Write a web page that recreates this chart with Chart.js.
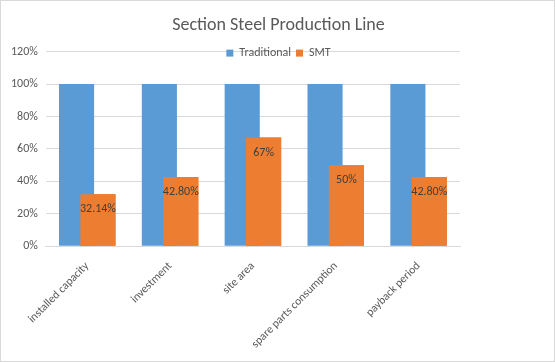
<!DOCTYPE html>
<html>
<head>
<meta charset="utf-8">
<script src="https://cdn.jsdelivr.net/npm/chart.js@4"></script>
<style>
    html, body { margin: 0; padding: 0; background: #fff; }
    #wrap { width: 553px; height: 360px; border: 1px solid #d9d9d9; }
</style>
</head>
<body>
<div id="wrap"><canvas id="steelChart" width="553" height="360"></canvas></div>
<script>
const categories = ['installed capacity', 'investment', 'site area', 'spare parts consumption', 'payback period'];
const traditional = [1, 1, 1, 1, 1];
const smt = [0.3214, 0.428, 0.67, 0.5, 0.428];
const smtLabels = ['32.14%', '42.80%', '67%', '50%', '42.80%'];

const textColor = '#595959';
const font = 'Calibri, Carlito, "Liberation Sans", Arial, sans-serif';

// legend sits on the top gridline like in Excel, so move it down after layout
const legendOnGrid = {
    id: 'legendOnGrid',
    afterLayout(chart) {
        const lg = chart.legend;
        const h = lg.bottom - lg.top;
        lg.top = chart.chartArea.top - h / 2 + 4;
        lg.bottom = lg.top + h;
    }
};

// SMT bars sit in front of the blue ones, then get their value labels
const smtOnTop = {
    id: 'smtOnTop',
    afterDatasetsDraw(chart) {
        const meta = chart.getDatasetMeta(1);
        const ctx = chart.ctx;
        ctx.save();
        meta.controller.draw();
        ctx.fillStyle = '#404040';
        ctx.font = '12px ' + font;
        ctx.textAlign = 'center';
        ctx.textBaseline = 'middle';
        meta.data.forEach((bar, i) => {
            ctx.fillText(smtLabels[i], bar.x, bar.y + 15);
        });
        ctx.restore();
    }
};

new Chart(document.getElementById('steelChart'), {
    type: 'bar',
    data: {
        labels: categories,
        datasets: [{
            label: 'Traditional',
            data: traditional,
            backgroundColor: '#5b9bd5',
            categoryPercentage: 0.517,
            barPercentage: 1.64
        }, {
            label: 'SMT',
            data: smt,
            backgroundColor: '#ed7d31',
            categoryPercentage: 0.517,
            barPercentage: 1.64
        }]
    },
    options: {
        responsive: false,
        animation: false,
        layout: { padding: { top: 0, right: 0, bottom: 5, left: 2 } },
        plugins: {
            title: {
                display: true,
                text: 'Section Steel Production Line',
                color: textColor,
                font: { family: font, size: 18, weight: 'normal' },
                padding: { top: 14, bottom: -12 }
            },
            legend: {
                position: 'top',
                align: 'center',
                labels: {
                    color: textColor,
                    font: { family: font, size: 12 },
                    boxWidth: 7,
                    boxHeight: 7,
                    padding: 5
                }
            },
            tooltip: { enabled: false }
        },
        scales: {
            x: {
                grid: { display: false },
                border: { color: '#d9d9d9' },
                ticks: {
                    color: textColor,
                    font: { family: font, size: 11.5 },
                    padding: 5,
                    maxRotation: 45,
                    minRotation: 45
                }
            },
            y: {
                min: 0,
                max: 1.2,
                grid: { color: '#d9d9d9', drawTicks: false },
                border: { display: false },
                ticks: {
                    stepSize: 0.2,
                    color: textColor,
                    padding: 8,
                    font: { family: font, size: 12 },
                    callback: v => Math.round(v * 100) + '%'
                }
            },
            // empty right-hand axis keeps the blank strip Excel leaves on the right
            yRight: {
                position: 'right',
                display: true,
                grid: { display: false },
                border: { display: false },
                ticks: { display: false },
                afterFit: scale => { scale.width = 94; }
            }
        }
    },
    plugins: [legendOnGrid, smtOnTop]
});
</script>
</body>
</html>
